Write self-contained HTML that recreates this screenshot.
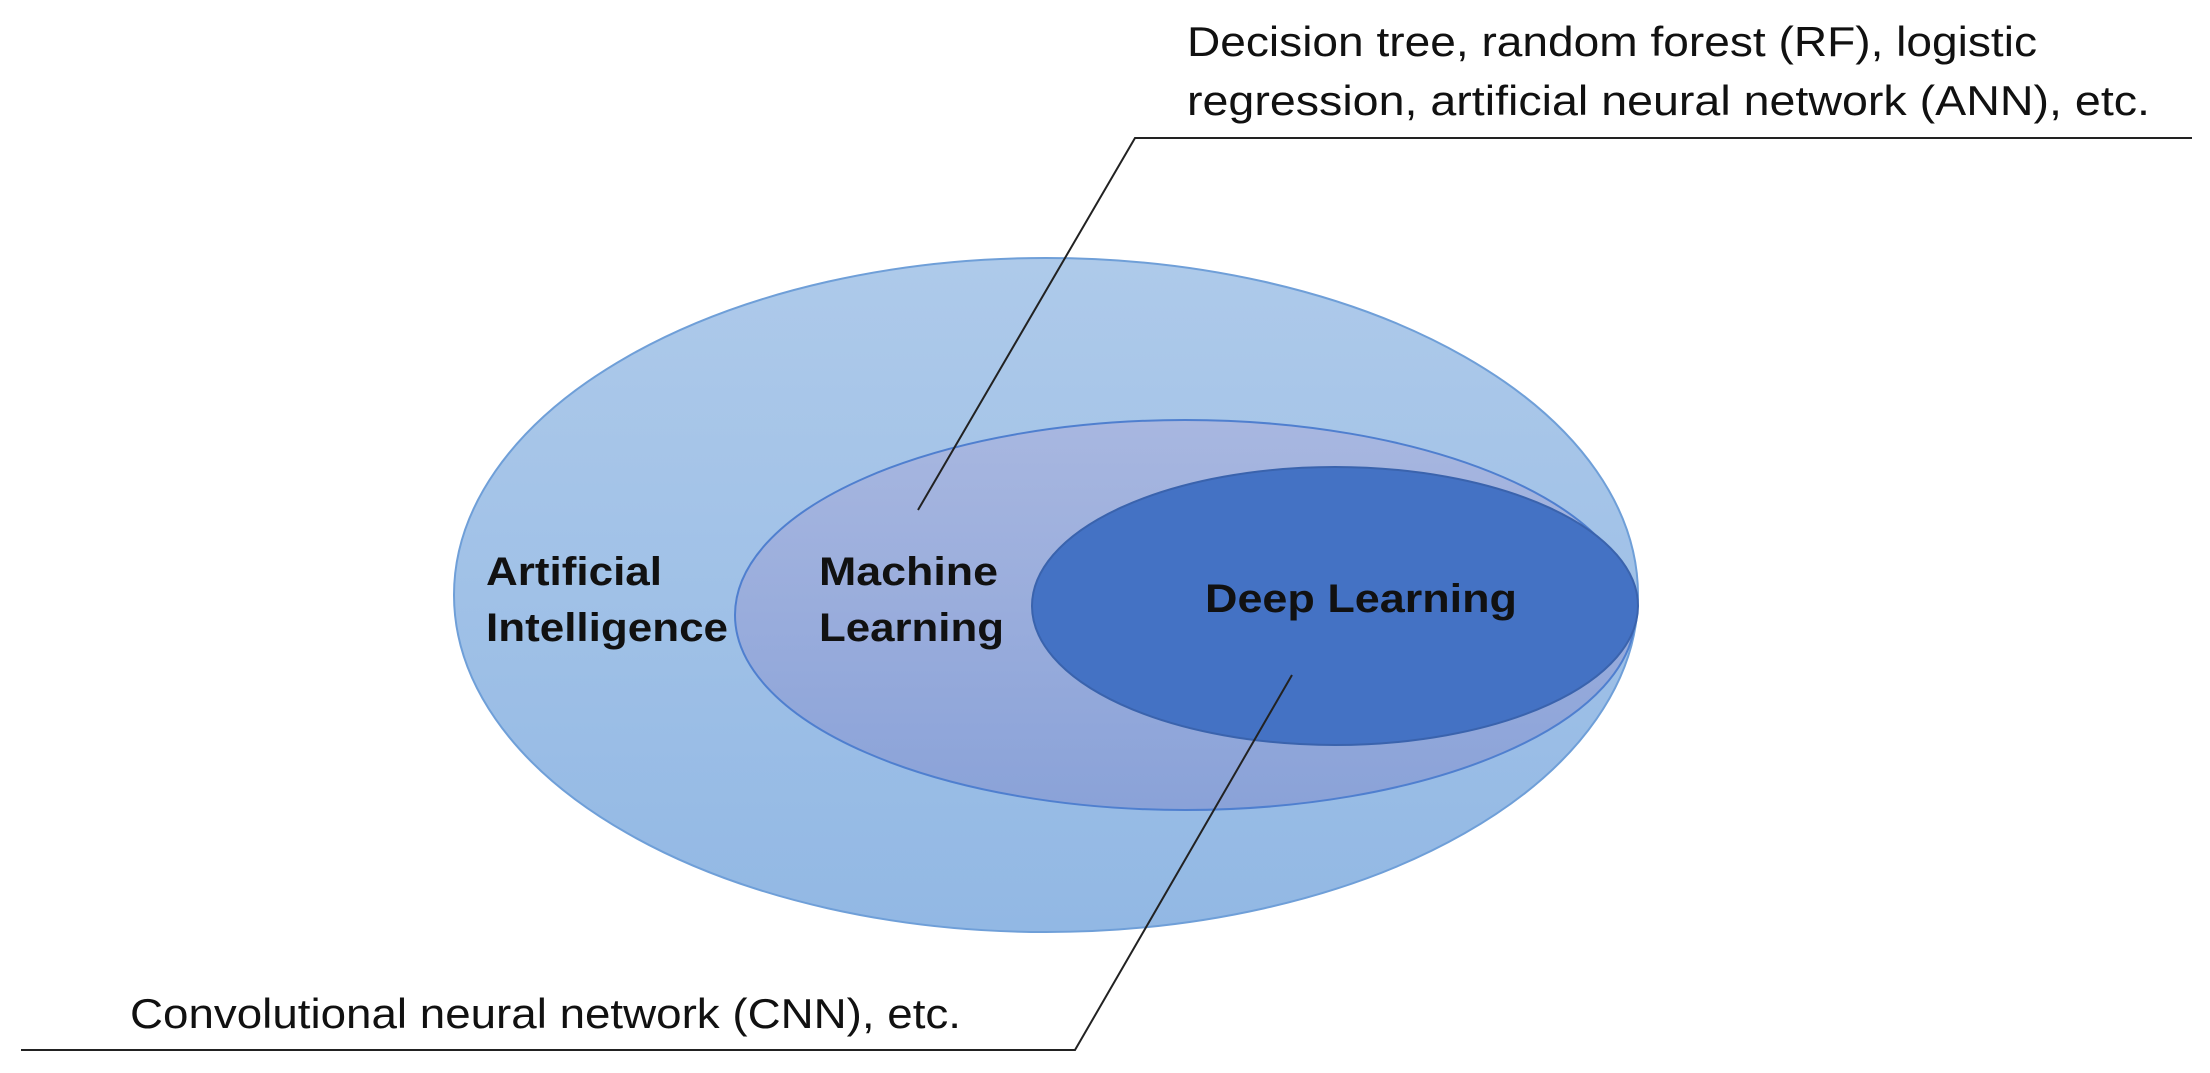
<!DOCTYPE html>
<html><head><meta charset="utf-8"><style>html,body{margin:0;padding:0;background:#fff;}svg{display:block}</style></head>
<body>
<svg width="2210" height="1073" viewBox="0 0 2210 1073" xmlns="http://www.w3.org/2000/svg">
<defs>
<linearGradient id="g1" x1="0" y1="0" x2="0" y2="1"><stop offset="0" stop-color="#aecaea"/><stop offset="1" stop-color="#92b8e4"/></linearGradient>
<linearGradient id="g2" x1="0" y1="0" x2="0" y2="1"><stop offset="0" stop-color="#a8b7e0"/><stop offset="1" stop-color="#8aa2d8"/></linearGradient>
</defs>
<ellipse cx="1046" cy="595" rx="592" ry="337" fill="url(#g1)" stroke="#6f9fd8" stroke-width="2"/>
<ellipse cx="1185" cy="615" rx="450" ry="195" fill="url(#g2)" stroke="#4f7fcf" stroke-width="2"/>
<ellipse cx="1335" cy="606" rx="303" ry="139" fill="#4472c4" stroke="#3a63ad" stroke-width="2"/>
<polyline points="918,510 1135,138 2192,138" fill="none" stroke="#222" stroke-width="2"/>
<polyline points="1292,675 1075,1050 21,1050" fill="none" stroke="#222" stroke-width="2"/>
<g font-family="Liberation Sans, sans-serif" fill="#111">
<text x="1187" y="56" font-size="42" textLength="850" lengthAdjust="spacingAndGlyphs">Decision tree, random forest (RF), logistic</text>
<text x="1187" y="115" font-size="42" textLength="963" lengthAdjust="spacingAndGlyphs">regression, artificial neural network (ANN), etc.</text>
<text x="130" y="1028" font-size="42" textLength="831" lengthAdjust="spacingAndGlyphs">Convolutional neural network (CNN), etc.</text>
<g font-weight="bold" font-size="40">
<text x="486" y="585" textLength="176" lengthAdjust="spacingAndGlyphs">Artificial</text>
<text x="486" y="641" textLength="242" lengthAdjust="spacingAndGlyphs">Intelligence</text>
<text x="819" y="585" textLength="179" lengthAdjust="spacingAndGlyphs">Machine</text>
<text x="819" y="641" textLength="185" lengthAdjust="spacingAndGlyphs">Learning</text>
<text x="1205" y="612" textLength="312" lengthAdjust="spacingAndGlyphs">Deep Learning</text>
</g>
</g>
</svg>
</body></html>
